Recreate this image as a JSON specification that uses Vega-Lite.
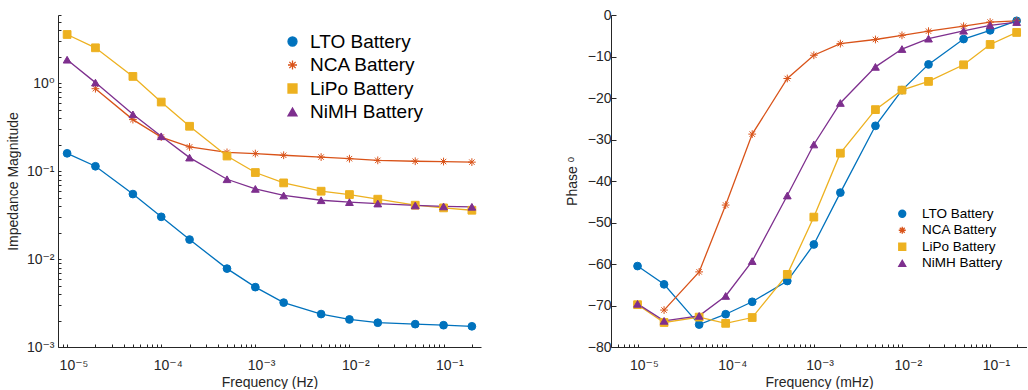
{
  "$schema": "https://vega.github.io/schema/vega-lite/v6.json",
  "padding": {"left": 6, "top": 8, "right": 0, "bottom": 0},
  "bounds": "flush",
  "spacing": 130,
  "config": {
    "view": {"stroke": null},
    "font": "Liberation Sans",
    "axis": {
      "grid": false,
      "domainColor": "#262626",
      "domainWidth": 1,
      "tickColor": "#262626",
      "tickWidth": 1,
      "labelColor": "#262626",
      "labelFont": "Liberation Sans, DejaVu Sans",
      "labelFontSize": 14,
      "titleFont": "Liberation Sans, DejaVu Sans",
      "titleFontSize": 14,
      "titleFontWeight": "normal",
      "titleColor": "#262626"
    }
  },
  "data": {
    "values": [
      {"battery": "LTO Battery", "freq": 0.00001, "mag": 0.160, "phase": -60.5},
      {"battery": "LTO Battery", "freq": 0.00002, "mag": 0.114, "phase": -64.9},
      {"battery": "LTO Battery", "freq": 0.00005, "mag": 0.055, "phase": -74.6},
      {"battery": "LTO Battery", "freq": 0.0001, "mag": 0.0303, "phase": -72.1},
      {"battery": "LTO Battery", "freq": 0.0002, "mag": 0.0167, "phase": -69.1},
      {"battery": "LTO Battery", "freq": 0.0005, "mag": 0.0078, "phase": -64.1},
      {"battery": "LTO Battery", "freq": 0.001, "mag": 0.0048, "phase": -55.3},
      {"battery": "LTO Battery", "freq": 0.002, "mag": 0.0032, "phase": -42.8},
      {"battery": "LTO Battery", "freq": 0.005, "mag": 0.00237, "phase": -26.7},
      {"battery": "LTO Battery", "freq": 0.01, "mag": 0.00206, "phase": -18.1},
      {"battery": "LTO Battery", "freq": 0.02, "mag": 0.00189, "phase": -11.9},
      {"battery": "LTO Battery", "freq": 0.05, "mag": 0.00182, "phase": -5.8},
      {"battery": "LTO Battery", "freq": 0.1, "mag": 0.00177, "phase": -3.7},
      {"battery": "LTO Battery", "freq": 0.2, "mag": 0.00172, "phase": -1.4},

      {"battery": "NCA Battery", "freq": 0.00002, "mag": 0.87, "phase": -71.1},
      {"battery": "NCA Battery", "freq": 0.00005, "mag": 0.387, "phase": -61.9},
      {"battery": "NCA Battery", "freq": 0.0001, "mag": 0.245, "phase": -45.8},
      {"battery": "NCA Battery", "freq": 0.0002, "mag": 0.189, "phase": -28.7},
      {"battery": "NCA Battery", "freq": 0.0005, "mag": 0.164, "phase": -15.3},
      {"battery": "NCA Battery", "freq": 0.001, "mag": 0.159, "phase": -9.7},
      {"battery": "NCA Battery", "freq": 0.002, "mag": 0.152, "phase": -6.9},
      {"battery": "NCA Battery", "freq": 0.005, "mag": 0.145, "phase": -5.9},
      {"battery": "NCA Battery", "freq": 0.01, "mag": 0.139, "phase": -4.9},
      {"battery": "NCA Battery", "freq": 0.02, "mag": 0.133, "phase": -3.9},
      {"battery": "NCA Battery", "freq": 0.05, "mag": 0.130, "phase": -2.7},
      {"battery": "NCA Battery", "freq": 0.1, "mag": 0.129, "phase": -1.7},
      {"battery": "NCA Battery", "freq": 0.2, "mag": 0.127, "phase": -1.4},

      {"battery": "LiPo Battery", "freq": 0.00001, "mag": 3.6, "phase": -69.8},
      {"battery": "LiPo Battery", "freq": 0.00002, "mag": 2.54, "phase": -74.1},
      {"battery": "LiPo Battery", "freq": 0.00005, "mag": 1.20, "phase": -72.8},
      {"battery": "LiPo Battery", "freq": 0.0001, "mag": 0.613, "phase": -74.3},
      {"battery": "LiPo Battery", "freq": 0.0002, "mag": 0.325, "phase": -72.9},
      {"battery": "LiPo Battery", "freq": 0.0005, "mag": 0.149, "phase": -62.5},
      {"battery": "LiPo Battery", "freq": 0.001, "mag": 0.0967, "phase": -48.7},
      {"battery": "LiPo Battery", "freq": 0.002, "mag": 0.0737, "phase": -33.3},
      {"battery": "LiPo Battery", "freq": 0.005, "mag": 0.0593, "phase": -22.8},
      {"battery": "LiPo Battery", "freq": 0.01, "mag": 0.0543, "phase": -18.1},
      {"battery": "LiPo Battery", "freq": 0.02, "mag": 0.0481, "phase": -16.0},
      {"battery": "LiPo Battery", "freq": 0.05, "mag": 0.0411, "phase": -12.0},
      {"battery": "LiPo Battery", "freq": 0.1, "mag": 0.0383, "phase": -7.1},
      {"battery": "LiPo Battery", "freq": 0.2, "mag": 0.0360, "phase": -4.2},

      {"battery": "NiMH Battery", "freq": 0.00001, "mag": 1.86, "phase": -69.6},
      {"battery": "NiMH Battery", "freq": 0.00002, "mag": 1.02, "phase": -73.7},
      {"battery": "NiMH Battery", "freq": 0.00005, "mag": 0.444, "phase": -72.5},
      {"battery": "NiMH Battery", "freq": 0.0001, "mag": 0.250, "phase": -67.7},
      {"battery": "NiMH Battery", "freq": 0.0002, "mag": 0.143, "phase": -59.3},
      {"battery": "NiMH Battery", "freq": 0.0005, "mag": 0.0811, "phase": -43.5},
      {"battery": "NiMH Battery", "freq": 0.001, "mag": 0.063, "phase": -31.2},
      {"battery": "NiMH Battery", "freq": 0.002, "mag": 0.053, "phase": -21.2},
      {"battery": "NiMH Battery", "freq": 0.005, "mag": 0.0468, "phase": -12.5},
      {"battery": "NiMH Battery", "freq": 0.01, "mag": 0.0445, "phase": -8.2},
      {"battery": "NiMH Battery", "freq": 0.02, "mag": 0.0429, "phase": -5.7},
      {"battery": "NiMH Battery", "freq": 0.05, "mag": 0.0408, "phase": -3.8},
      {"battery": "NiMH Battery", "freq": 0.1, "mag": 0.0398, "phase": -2.5},
      {"battery": "NiMH Battery", "freq": 0.2, "mag": 0.0394, "phase": -1.7}
    ]
  },
  "resolve": {
    "scale": {"color": "independent", "shape": "independent", "stroke": "independent"},
    "legend": {"color": "independent", "shape": "independent", "stroke": "independent"}
  },
  "hconcat": [
    {
      "width": 423,
      "height": 332,
      "encoding": {
        "x": {
          "field": "freq",
          "type": "quantitative",
          "title": "Frequency (Hz)",
          "scale": {"type": "log", "domain": [0.000008, 0.25], "nice": false},
          "axis": {
            "values": [0.000009, 0.00001, 0.00002, 0.00003, 0.00004, 0.00005, 0.00006, 0.00007, 0.00008, 0.00009, 0.0001, 0.0002, 0.0003, 0.0004, 0.0005, 0.0006, 0.0007, 0.0008, 0.0009, 0.001, 0.002, 0.003, 0.004, 0.005, 0.006, 0.007, 0.008, 0.009, 0.01, 0.02, 0.03, 0.04, 0.05, 0.06, 0.07, 0.08, 0.09, 0.1, 0.2],
            "labelExpr": "datum.value == 0.00001 ? '10⁻⁵' : datum.value == 0.0001 ? '10⁻⁴' : datum.value == 0.001 ? '10⁻³' : datum.value == 0.01 ? '10⁻²' : datum.value == 0.1 ? '10⁻¹' : ''",
            "tickSize": -3,
            "labelAlign": "left",
            "labelOffset": -8,
            "labelPadding": 14,
            "labelOverlap": false,
            "labelFlush": false,
            "titlePadding": 3
          }
        },
        "y": {
          "field": "mag",
          "type": "quantitative",
          "title": "Impedance Magnitude",
          "scale": {"type": "log", "domain": [0.001, 6], "nice": false},
          "axis": {
            "values": [0.001, 0.002, 0.003, 0.004, 0.005, 0.006, 0.007, 0.008, 0.009, 0.01, 0.02, 0.03, 0.04, 0.05, 0.06, 0.07, 0.08, 0.09, 0.1, 0.2, 0.3, 0.4, 0.5, 0.6, 0.7, 0.8, 0.9, 1, 2, 3, 4, 5, 6],
            "labelExpr": "datum.value == 0.001 ? '10⁻³' : datum.value == 0.01 ? '10⁻²' : datum.value == 0.1 ? '10⁻¹' : datum.value == 1 ? '10⁰' : ''",
            "tickSize": -3,
            "labelPadding": 7,
            "labelOverlap": false,
            "labelFlush": false,
            "titlePadding": 6
          }
        },
        "color": {
          "field": "battery",
          "type": "nominal",
          "scale": {
            "domain": ["LTO Battery", "NCA Battery", "LiPo Battery", "NiMH Battery"],
            "range": ["#0072BD", "#D95319", "#EDB120", "#7E2F8E"]
          },
          "legend": {
            "orient": "none",
            "legendX": 219,
            "legendY": 17,
            "title": null,
            "padding": 0,
            "labelFont": "Liberation Sans",
            "labelFontSize": 19,
            "labelColor": "#000000",
            "symbolSize": 81,
            "symbolStrokeWidth": 1.3,
            "symbolOffset": 6,
            "labelOffset": 8,
            "rowPadding": 3.5
          }
        }
      },
      "layer": [
        {"mark": {"type": "line", "strokeWidth": 1.3}},
        {
          "mark": {"type": "point", "filled": true, "opacity": 1, "size": 60, "strokeWidth": 1},
          "encoding": {
            "shape": {
              "field": "battery",
              "type": "nominal",
              "legend": null,
              "scale": {
                "domain": ["LTO Battery", "NCA Battery", "LiPo Battery", "NiMH Battery"],
                "range": ["circle", "M-1,0L1,0M0,-1L0,1M-0.7,-0.7L0.7,0.7M-0.7,0.7L0.7,-0.7", "square", "triangle-up"]
              }
            },
            "stroke": {
              "field": "battery",
              "type": "nominal",
              "legend": null,
              "scale": {
                "domain": ["LTO Battery", "NCA Battery", "LiPo Battery", "NiMH Battery"],
                "range": ["#0072BD", "#D95319", "#EDB120", "#7E2F8E"]
              }
            }
          }
        }
      ]
    },
    {
      "width": 416,
      "height": 332,
      "encoding": {
        "x": {
          "field": "freq",
          "type": "quantitative",
          "title": "Frequency (mHz)",
          "scale": {"type": "log", "domain": [0.000005, 0.262], "nice": false},
          "axis": {
            "values": [0.000006, 0.000007, 0.000008, 0.000009, 0.00001, 0.00002, 0.00003, 0.00004, 0.00005, 0.00006, 0.00007, 0.00008, 0.00009, 0.0001, 0.0002, 0.0003, 0.0004, 0.0005, 0.0006, 0.0007, 0.0008, 0.0009, 0.001, 0.002, 0.003, 0.004, 0.005, 0.006, 0.007, 0.008, 0.009, 0.01, 0.02, 0.03, 0.04, 0.05, 0.06, 0.07, 0.08, 0.09, 0.1, 0.2],
            "labelExpr": "datum.value == 0.00001 ? '10⁻⁵' : datum.value == 0.0001 ? '10⁻⁴' : datum.value == 0.001 ? '10⁻³' : datum.value == 0.01 ? '10⁻²' : datum.value == 0.1 ? '10⁻¹' : ''",
            "tickSize": -3,
            "labelAlign": "left",
            "labelOffset": -8,
            "labelPadding": 14,
            "labelOverlap": false,
            "labelFlush": false,
            "titlePadding": 3
          }
        },
        "y": {
          "field": "phase",
          "type": "quantitative",
          "title": "Phase ᵒ",
          "scale": {"domain": [-80, 0], "nice": false},
          "axis": {
            "values": [-80, -70, -60, -50, -40, -30, -20, -10, 0],
            "tickSize": -5,
            "labelPadding": 5,
            "labelFlush": false,
            "titlePadding": 8
          }
        },
        "color": {
          "field": "battery",
          "type": "nominal",
          "scale": {
            "domain": ["LTO Battery", "NCA Battery", "LiPo Battery", "NiMH Battery"],
            "range": ["#0072BD", "#D95319", "#EDB120", "#7E2F8E"]
          },
          "legend": {
            "orient": "none",
            "legendX": 277,
            "legendY": 192,
            "title": null,
            "padding": 0,
            "labelFont": "Liberation Sans",
            "labelFontSize": 13.5,
            "labelColor": "#000000",
            "symbolSize": 49,
            "symbolStrokeWidth": 1.3,
            "symbolOffset": 7.5,
            "labelOffset": 13,
            "rowPadding": 1.5
          }
        }
      },
      "layer": [
        {"mark": {"type": "line", "strokeWidth": 1.3}},
        {
          "mark": {"type": "point", "filled": true, "opacity": 1, "size": 60, "strokeWidth": 1},
          "encoding": {
            "shape": {
              "field": "battery",
              "type": "nominal",
              "legend": null,
              "scale": {
                "domain": ["LTO Battery", "NCA Battery", "LiPo Battery", "NiMH Battery"],
                "range": ["circle", "M-1,0L1,0M0,-1L0,1M-0.7,-0.7L0.7,0.7M-0.7,0.7L0.7,-0.7", "square", "triangle-up"]
              }
            },
            "stroke": {
              "field": "battery",
              "type": "nominal",
              "legend": null,
              "scale": {
                "domain": ["LTO Battery", "NCA Battery", "LiPo Battery", "NiMH Battery"],
                "range": ["#0072BD", "#D95319", "#EDB120", "#7E2F8E"]
              }
            }
          }
        }
      ]
    }
  ]
}
